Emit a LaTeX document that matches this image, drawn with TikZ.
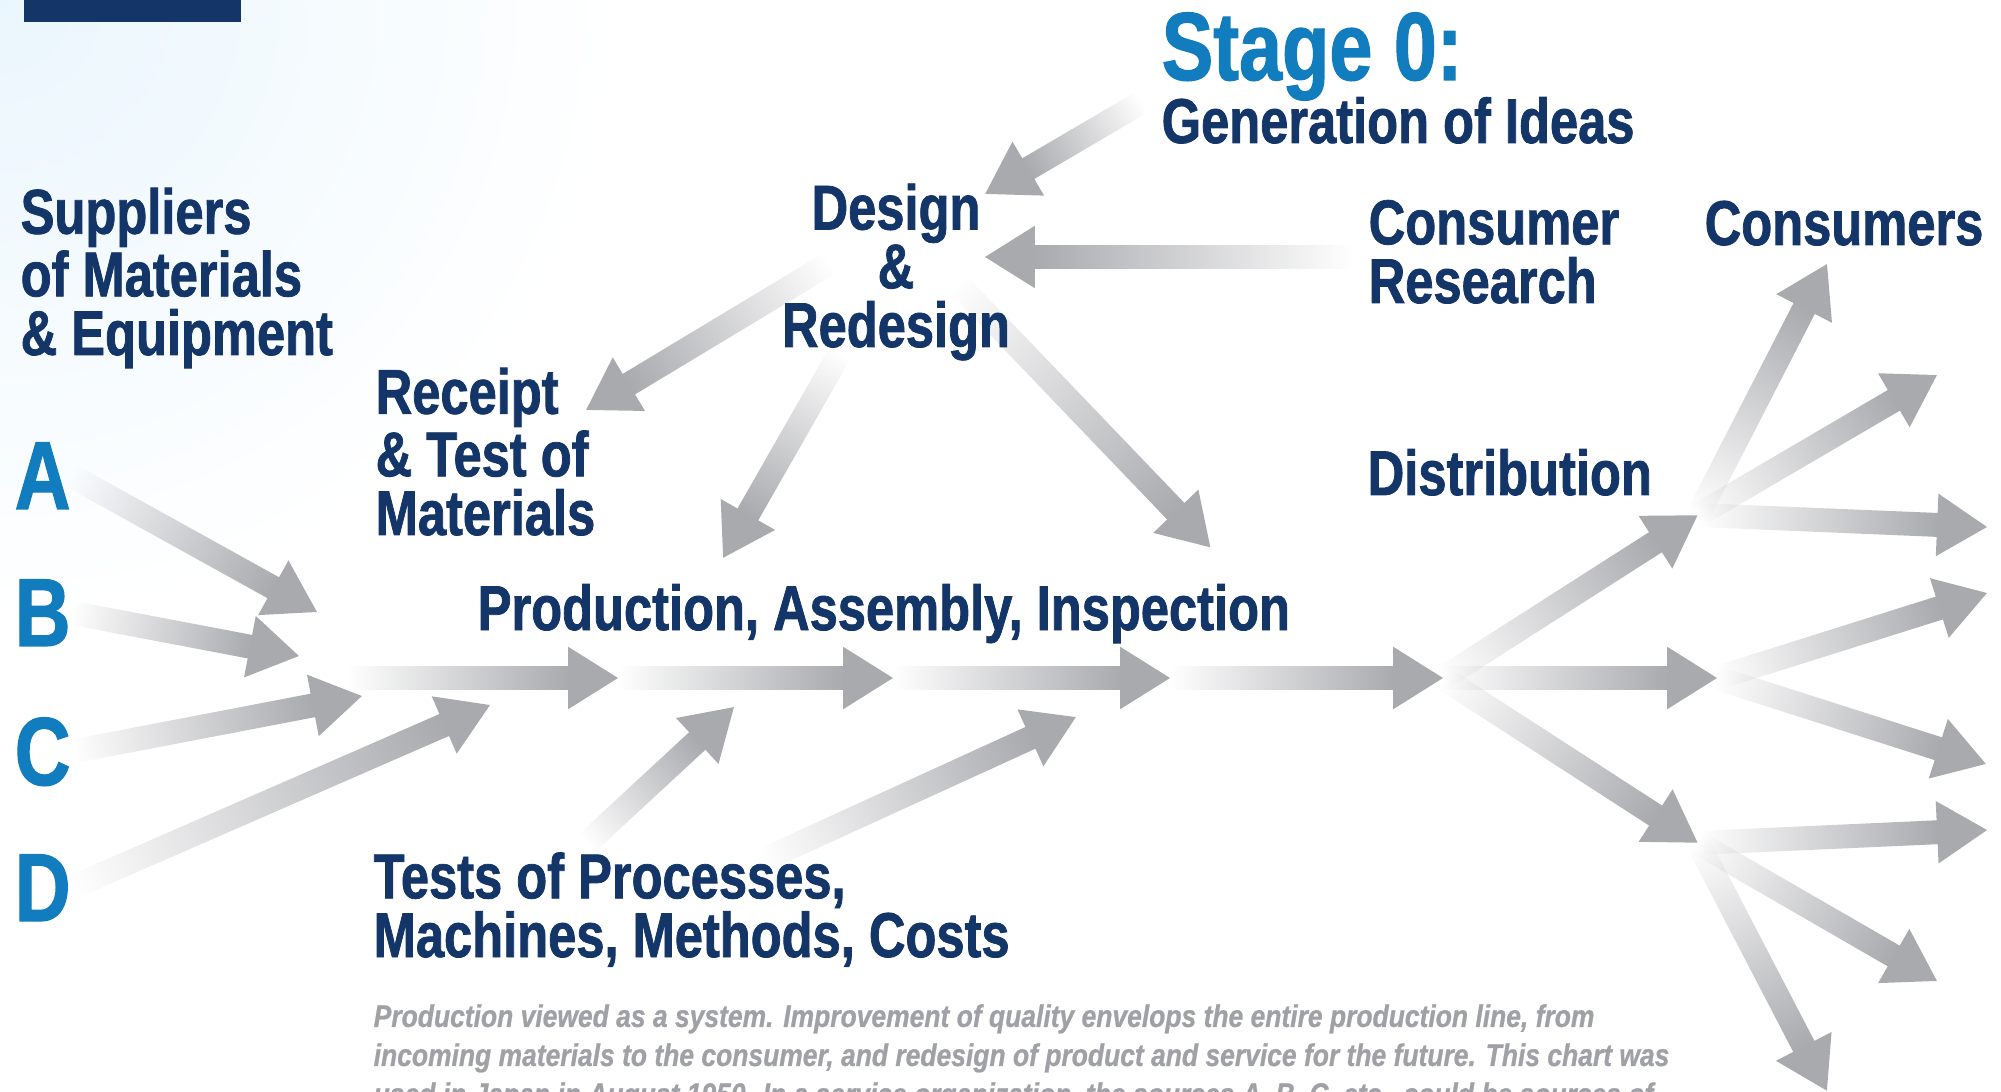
\documentclass[tikz,border=0pt]{standalone}
\usepackage{fontspec}
\setmainfont{Liberation Sans}[FakeStretch=0.8, BoldFeatures={FakeBold=1.2}, BoldItalicFeatures={FakeBold=0.8}]
\newfontfamily\notefont{Liberation Sans}[FakeStretch=0.845, BoldItalicFeatures={FakeBold=0.8}]
\definecolor{navy}{RGB}{19, 53, 103}
\definecolor{stageblue}{RGB}{17, 125, 190}
\definecolor{arrowgray}{RGB}{169, 170, 174}
\definecolor{capgray}{RGB}{160, 161, 166}
\definecolor{bgblue}{RGB}{234, 246, 253}
\usetikzlibrary{calc, fadings}
\tikzfading[name=tailfade, left color=transparent!100, right color=transparent!0]
\pgfdeclarelayer{bg}
\pgfsetlayers{bg,main}

% fat grey arrow whose shaft fades in from the tail
\newcommand{\grayarrow}[2]{%
  \path let \p1=($(#2)-(#1)$) in \pgfextra{%
    \pgfmathsetmacro\tmpang{atan2(\y1,\x1)}\global\let\arrowang\tmpang
    \pgfmathsetmacro\tmplen{veclen(\x1,\y1)}\global\let\arrowlen\tmplen};
  \begin{scope}[transform canvas={shift={(#1)}, rotate=\arrowang}]
    \fill[arrowgray, path fading=tailfade] (0pt,-3.4pt) rectangle (\arrowlen pt-14pt, 3.4pt);
    \fill[arrowgray] (\arrowlen pt-14.2pt,-8.9pt) -- (\arrowlen pt,0pt) -- (\arrowlen pt-14.2pt,8.9pt) -- cycle;
  \end{scope}}

\begin{document}
\begin{tikzpicture}[x=0.01cm, y=-0.01cm,
  lbl/.style={font=\fontsize{18pt}{16.7pt}\selectfont\bfseries, text=navy, inner sep=0pt, align=left, anchor=base west},
  big/.style={font=\fontsize{27.5pt}{27.5pt}\selectfont\bfseries, text=stageblue, inner sep=0pt, anchor=base west},
  note/.style={font=\notefont\fontsize{8.9pt}{11.1pt}\selectfont\bfseries\itshape, text=capgray, inner sep=0pt, align=left, anchor=base west}]

  \useasboundingbox (0,0) rectangle (2001,1092);
  \clip (0,0) rectangle (2001,1092);

  % Labels (multi-line ones sit on their last baseline)
  \node[big] (stage) at (1161,80) {Stage 0:};
  \node[lbl] (ideas) at (1161,143) {Generation of Ideas};
  \node[lbl] (suppliers) at (20,355) {Suppliers\\of Materials\\\& Equipment};
  \node[lbl, align=center, anchor=base] (design) at (896,347) {Design\\\&\\Redesign};
  \node[lbl] (research) at (1368,303) {Consumer\\Research};
  \node[lbl] (consumers) at (1704,245) {Consumers};
  \node[lbl] (receipt) at (375,535) {Receipt\\\& Test of\\Materials};
  \node[lbl] (distrib) at (1367,495) {Distribution};
  \node[lbl] (production) at (477,630) {Production, Assembly, Inspection};
  \node[lbl] (tests) at (373,957) {Tests of Processes,\\Machines, Methods, Costs};

  \node[big] (A) at (14,509) {A};
  \node[big] (B) at (14,646) {B};
  \node[big] (C) at (14,785) {C};
  \node[big] (D) at (14,921) {D};

  \node[note] (caption) at (373,1105) {Production viewed as a system. Improvement of quality envelops the entire production line, from\\
    incoming materials to the consumer, and redesign of product and service for the future. This chart was\\
    used in Japan in August 1950. In a service organization, the sources A, B, C, etc., could be sources of};

  % Arrow ends
  \coordinate (inA) at (317,612);
  \coordinate (inB) at (299,656);
  \coordinate (inC) at (362,696);
  \coordinate (inD) at (490,705);
  \coordinate (m0) at (347,678);
  \coordinate (m1) at (618,678);
  \coordinate (m2) at (893,678);
  \coordinate (m3) at (1170,678);
  \coordinate (m4) at (1443,678);
  \coordinate (up) at (1698,515);
  \coordinate (mid) at (1717,678);
  \coordinate (low) at (1698,843);
  \coordinate (c1) at (1827,264);
  \coordinate (c2) at (1937,375);
  \coordinate (c3) at (1987,527);
  \coordinate (c4) at (1987,593);
  \coordinate (c5) at (1986,764);
  \coordinate (c6) at (1987,830);
  \coordinate (c7) at (1937,981);
  \coordinate (c8) at (1827,1091);
  \coordinate (ideastail) at (1142,102);
  \coordinate (designtop) at (985,194);
  \coordinate (researchtail) at (1353,257);
  \coordinate (designside) at (985,257);
  \coordinate (d1) at (830,263);
  \coordinate (receipttip) at (586,410);
  \coordinate (d2) at (840,353);
  \coordinate (prodtip1) at (723,558);
  \coordinate (d3) at (957,283);
  \coordinate (prodtip2) at (1211,548);
  \coordinate (t1) at (587,843);
  \coordinate (tt1) at (734,707);
  \coordinate (t2) at (763,860);
  \coordinate (tt2) at (1076,717);

  \begin{pgfonlayer}{bg}
    % light corner wash and the title bar
    \shade[inner color=bgblue, outer color=white] (0,0) circle (620);
    \fill[navy] (24,0) rectangle (241,22);

    % suppliers
    \grayarrow{A.east}{inA}
    \grayarrow{B.east}{inB}
    \grayarrow{C.east}{inC}
    \grayarrow{D.east}{inD}

    % production line
    \grayarrow{m0}{m1}
    \grayarrow{m1}{m2}
    \grayarrow{m2}{m3}
    \grayarrow{m3}{m4}

    % design loop
    \grayarrow{ideastail}{designtop}
    \grayarrow{researchtail}{designside}
    \grayarrow{d1}{receipttip}
    \grayarrow{d2}{prodtip1}
    \grayarrow{d3}{prodtip2}

    % tests
    \grayarrow{t1}{tt1}
    \grayarrow{t2}{tt2}

    % distribution to consumers
    \grayarrow{m4}{up}
    \grayarrow{m4}{mid}
    \grayarrow{m4}{low}
    \grayarrow{up}{c1}
    \grayarrow{up}{c2}
    \grayarrow{up}{c3}
    \grayarrow{mid}{c4}
    \grayarrow{mid}{c5}
    \grayarrow{low}{c6}
    \grayarrow{low}{c7}
    \grayarrow{low}{c8}
  \end{pgfonlayer}
\end{tikzpicture}
\end{document}
